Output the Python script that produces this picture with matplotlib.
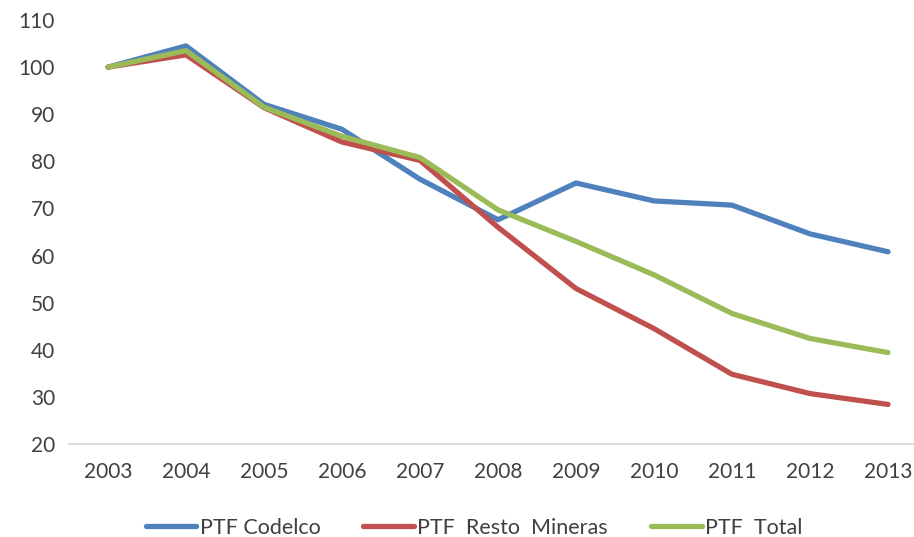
import matplotlib
matplotlib.use("Agg")
import matplotlib.pyplot as plt

years = [2003, 2004, 2005, 2006, 2007, 2008, 2009, 2010, 2011, 2012, 2013]
codelco = [100, 104.5, 92.1, 86.8, 76.2, 67.6, 75.4, 71.6, 70.7, 64.6, 60.8]
resto = [100, 102.6, 91.4, 84.1, 80.2, 66.0, 53.0, 44.5, 34.8, 30.7, 28.4]
total = [100, 103.5, 91.5, 85.3, 80.8, 69.7, 63.0, 55.9, 47.7, 42.4, 39.4]
series_names = ["PTF Codelco", "PTF  Resto  Mineras", "PTF  Total"]
colors = ["#4F81BD", "#C0504D", "#9BBB59"]

plt.rcParams['font.family'] = ['Lato', 'DejaVu Sans']

fig = plt.figure(figsize=(9.14, 5.37), dpi=100)
W, H = 914, 537
ax = fig.add_axes([69 / W, (H - 444) / H, 1 - 69 / W, (444 - 20) / H])

x = list(range(len(years)))
for vals, name, c in zip([codelco, resto, total], series_names, colors):
    ax.plot(x, vals, color=c, lw=3.8, label=name, solid_capstyle='round', solid_joinstyle='round')

ax.set_xlim(-0.5, 10.333)
ax.set_ylim(20, 110)
ax.set_yticks(range(20, 111, 10))
ax.set_xticks(x)
ax.set_xticklabels([str(y) for y in years])
for s in ['left', 'right', 'top']:
    ax.spines[s].set_visible(False)
ax.spines['bottom'].set_color('#D9D9D9')
ax.spines['bottom'].set_linewidth(1.3)
ax.tick_params(axis='both', length=0, labelsize=15, colors='#404040')
ax.tick_params(axis='y', pad=10)
ax.tick_params(axis='x', pad=13)

leg = fig.legend(loc='center', bbox_to_anchor=(474 / W, (H - 528) / H), ncol=3, frameon=False,
                 fontsize=15.5, handlelength=2.35, handletextpad=0.15, columnspacing=2.0)
for t in leg.get_texts():
    t.set_color('#404040')

fig.savefig("out.png", dpi=100)
